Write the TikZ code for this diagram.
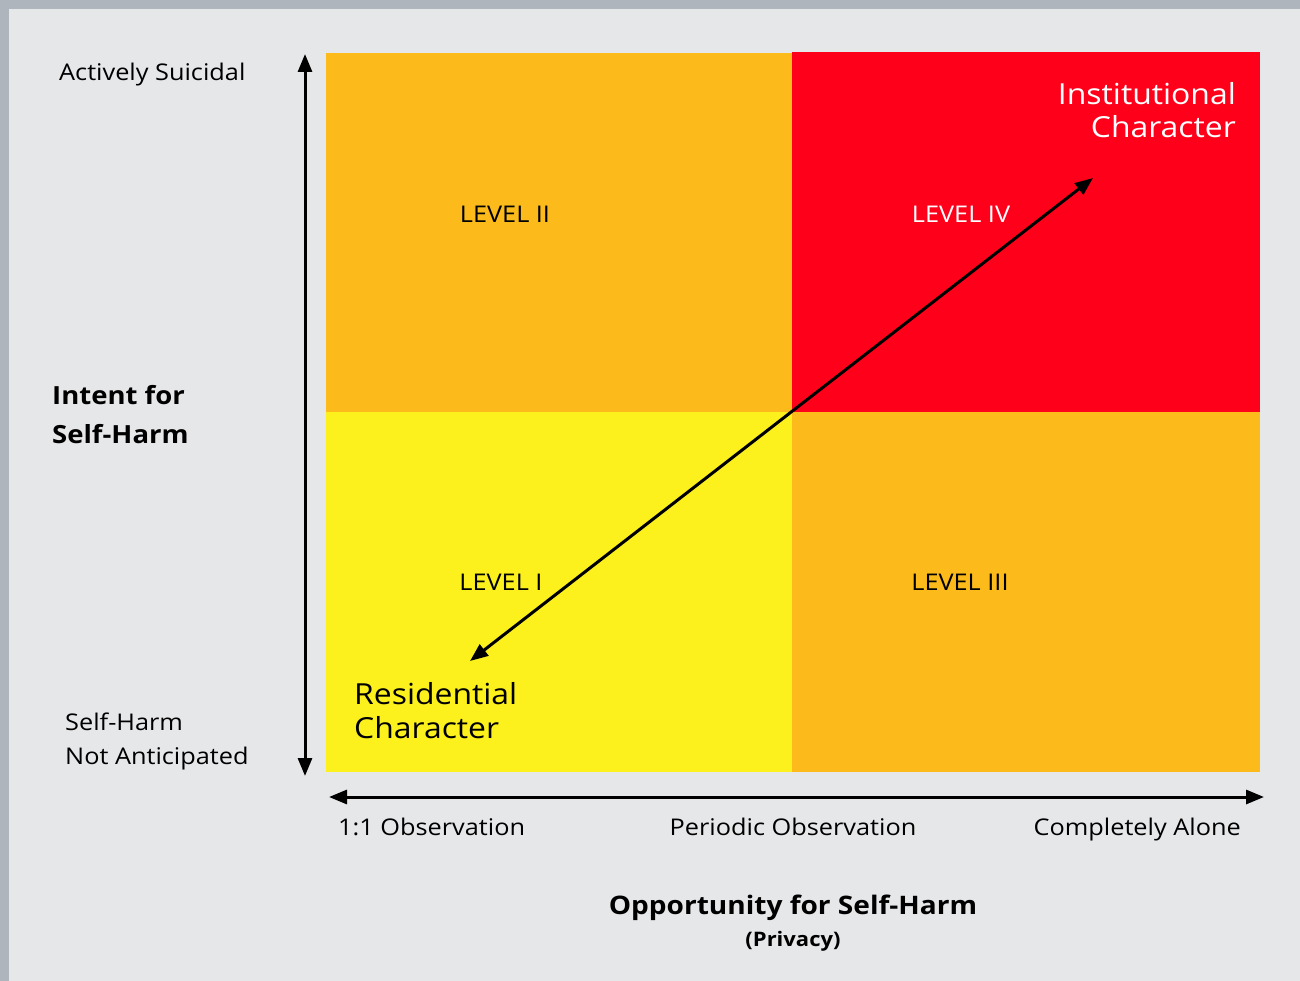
\documentclass[tikz,border=0pt]{standalone}
\usepackage{fontspec}
\setmainfont{Open Sans}[FakeStretch=1.1]
\usetikzlibrary{arrows.meta}
\definecolor{frame}{HTML}{AEB5BC}
\definecolor{bg}{HTML}{E6E7E9}
\definecolor{orng}{HTML}{FDBB1B}
\definecolor{redq}{HTML}{FF001A}
\definecolor{yell}{HTML}{FCF11C}
\tikzset{
  quad/.style={draw=none,inner sep=0pt,outer sep=0pt,minimum width=466pt,minimum height=360pt,anchor=north west},
  axis/.style={line width=3pt,{Triangle[length=18pt,width=14pt]}-{Triangle[length=18pt,width=14pt]}},
  lbl/.style={inner sep=0pt,font=\fontsize{23}{34}\selectfont},
  lvl/.style={inner sep=0pt,anchor=base,font=\fontsize{23}{26}\selectfont},
  big/.style={inner sep=0pt,align=left,font=\fontsize{29}{33.5}\selectfont},
  bold/.style={inner sep=0pt,align=left,font=\fontsize{25}{39}\selectfont\bfseries}
}
\begin{document}
\begin{tikzpicture}[x=1pt,y=-1pt]
\useasboundingbox (0,0) rectangle (1300,981);
\fill[frame] (0,0) rectangle (1300,981);
\fill[bg] (9,9) rectangle (1300,981);
% quadrants
\node[quad,fill=orng] (q2) at (326,53) {};
\node[quad,fill=redq,minimum width=468pt,minimum height=360pt] (q4) at (792,52) {};
\node[quad,fill=yell] (q1) at (326,412) {};
\node[quad,fill=orng,minimum width=468pt] (q3) at (792,412) {};
% level labels
\node[lvl] (l2) at (505,223) {LEVEL II};
\node[lvl,text=white] (l4) at (961,223) {LEVEL IV};
\node[lvl] (l1) at (501,590) {LEVEL I};
\node[lvl] (l3) at (960,590) {LEVEL III};
% corner texts
\node[big,align=right,anchor=base east,text=white] (inst) at (1236,138) {Institutional\\Character};
\node[big,anchor=base west] (resi) at (354,738) {Residential\\Character};
% diagonal arrow
\coordinate (dA) at (470,661);
\coordinate (dB) at (1093,178);
\draw[axis] (dA) -- (dB);
% vertical axis
\coordinate (vt) at (305,54);
\coordinate (vb) at (305,776);
\draw[axis] (vb) -- (vt);
\node[lbl,anchor=base west] (act) at (59,81) {Actively Suicidal};
\node[lbl,anchor=base west,align=left] (nah) at (65,764) {Self-Harm\\Not Anticipated};
\node[bold,anchor=base west] (intent) at (52,443) {Intent for\\Self-Harm};
% horizontal axis
\coordinate (hl) at (329,797);
\coordinate (hr) at (1264,797);
\draw[axis] (hl) -- (hr);
\node[lbl,anchor=base west] (obs) at (338,835) {1:1 Observation};
\node[lbl,anchor=base] (per) at (793,835) {Periodic Observation};
\node[lbl,anchor=base east] (alone) at (1241,835) {Completely Alone};
\node[inner sep=0pt,anchor=base,font=\fontsize{25.5}{30}\selectfont\bfseries] (opp) at (793,914) {Opportunity for Self-Harm};
\node[inner sep=0pt,anchor=base,font=\fontsize{20}{24}\selectfont\bfseries] (priv) at (793,946) {(Privacy)};
\end{tikzpicture}
\end{document}
